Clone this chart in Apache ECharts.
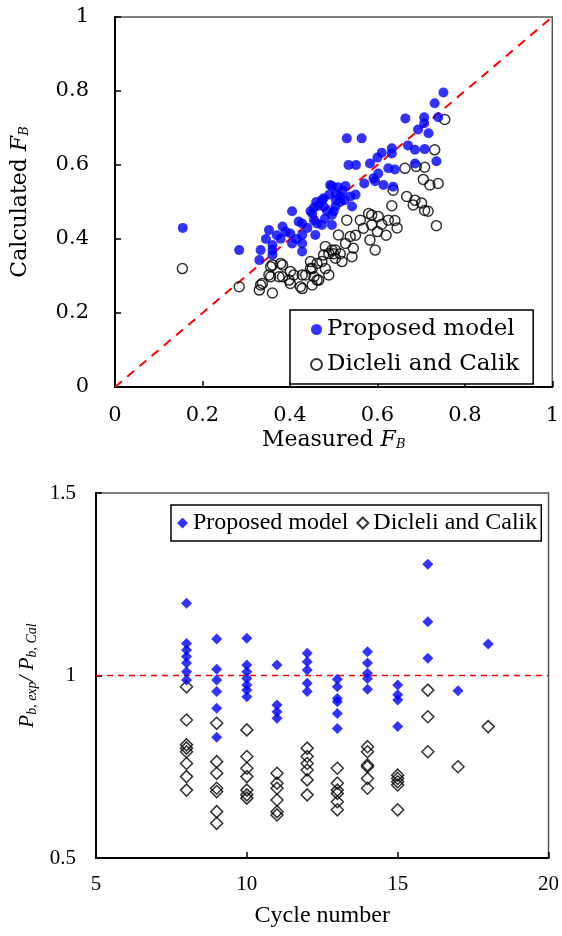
<!DOCTYPE html>
<html>
<head>
<meta charset="utf-8">
<script src="https://cdn.jsdelivr.net/npm/echarts@6/dist/echarts.min.js"></script>
<style>
  html, body { margin: 0; padding: 0; background: #fff; }
  #chart { width: 562px; height: 936px; }
</style>
</head>
<body>
<div id="chart"></div>
<script>
// top panel: measured vs calculated F_B
const proposedFB = [
  [0.155,0.43],[0.284,0.37],[0.33,0.343],[0.333,0.37],[0.352,0.424],[0.36,0.384],[0.36,0.37],[0.36,0.357],
  [0.379,0.401],[0.383,0.434],[0.401,0.415],[0.405,0.475],[0.405,0.388],[0.42,0.447],[0.428,0.411],[0.428,0.388],
  [0.428,0.366],[0.428,0.442],[0.447,0.475],[0.451,0.469],[0.455,0.451],[0.458,0.411],[0.462,0.442],[0.473,0.505],
  [0.473,0.438],[0.477,0.51],[0.477,0.488],[0.485,0.475],[0.492,0.546],[0.496,0.543],[0.496,0.465],[0.496,0.438],
  [0.504,0.523],[0.504,0.488],[0.5,0.475],[0.515,0.515],[0.515,0.5],[0.527,0.543],[0.53,0.672],[0.534,0.6],
  [0.538,0.515],[0.542,0.488],[0.551,0.6],[0.564,0.672],[0.583,0.604],[0.591,0.564],[0.595,0.556],[0.602,0.577],
  [0.61,0.633],[0.614,0.546],[0.625,0.591],[0.633,0.645],[0.633,0.631],[0.636,0.541],[0.64,0.588],[0.664,0.726],
  [0.67,0.653],[0.686,0.641],[0.686,0.604],[0.693,0.696],[0.707,0.729],[0.707,0.713],[0.708,0.643],[0.717,0.686],
  [0.731,0.767],[0.735,0.61],[0.739,0.729],[0.751,0.796],[0.37,0.41],[0.39,0.42],[0.44,0.43],[0.465,0.49],
  [0.52,0.53],[0.55,0.52],[0.6,0.62],[0.345,0.4],[0.415,0.4],[0.48,0.455],[0.51,0.54],[0.57,0.55],
  [0.46,0.5],[0.49,0.52],[0.525,0.505],[0.455,0.485],[0.505,0.505]
];
const dicleliFB = [
  [0.154,0.32],[0.284,0.271],[0.33,0.262],[0.333,0.276],[0.337,0.28],[0.352,0.303],[0.356,0.325],[0.356,0.298],
  [0.36,0.33],[0.36,0.254],[0.375,0.298],[0.379,0.334],[0.383,0.298],[0.383,0.33],[0.398,0.289],[0.401,0.28],
  [0.401,0.312],[0.409,0.303],[0.424,0.271],[0.428,0.266],[0.428,0.303],[0.436,0.303],[0.447,0.339],[0.447,0.32],
  [0.451,0.32],[0.451,0.276],[0.455,0.298],[0.462,0.289],[0.462,0.334],[0.466,0.289],[0.473,0.339],[0.477,0.357],
  [0.481,0.38],[0.481,0.32],[0.489,0.361],[0.489,0.303],[0.496,0.37],[0.504,0.37],[0.504,0.348],[0.511,0.411],
  [0.519,0.339],[0.527,0.388],[0.53,0.451],[0.538,0.407],[0.542,0.352],[0.545,0.375],[0.561,0.451],[0.568,0.429],
  [0.58,0.469],[0.583,0.397],[0.587,0.465],[0.587,0.438],[0.595,0.37],[0.602,0.461],[0.61,0.44],[0.625,0.451],
  [0.633,0.49],[0.636,0.532],[0.64,0.45],[0.645,0.43],[0.663,0.591],[0.667,0.515],[0.682,0.492],[0.686,0.505],
  [0.689,0.596],[0.701,0.497],[0.705,0.561],[0.708,0.594],[0.708,0.477],[0.716,0.475],[0.72,0.546],[0.731,0.641],
  [0.735,0.436],[0.739,0.55],[0.754,0.723],[0.5,0.36],[0.515,0.36],[0.55,0.41],[0.6,0.42],[0.62,0.41]
];
const diagLine = [[0, 0], [1, 1]];

// bottom panel: ratio vs cycle number
const proposedRatio = [
  [8,1.198],[8,1.088],[8,1.07],[8,1.052],[8,1.034],[8,1.01],[8,0.988],
  [9,1.1],[9,1.017],[9,0.988],[9,0.956],[9,0.91],[9,0.831],
  [10,1.102],[10,1.029],[10,1.01],[10,0.992],[10,0.974],[10,0.96],[10,0.942],
  [11,1.029],[11,0.919],[11,0.901],[11,0.883],
  [12,1.061],[12,1.038],[12,1.015],[12,0.979],[12,0.956],
  [13,0.99],[13,0.969],[13,0.937],[13,0.928],[13,0.896],[13,0.855],
  [14,1.065],[14,1.034],[14,1.006],[14,0.992],[14,0.962],
  [15,0.974],[15,0.947],[15,0.933],[15,0.86],
  [16,1.305],[16,1.147],[16,1.047],
  [17,0.958],[18,1.086]
];
const dicleliRatio = [
  [8,0.969],[8,0.878],[8,0.81],[8,0.801],[8,0.791],[8,0.759],[8,0.723],[8,0.686],
  [9,0.869],[9,0.764],[9,0.732],[9,0.691],[9,0.682],[9,0.627],[9,0.595],
  [10,0.851],[10,0.778],[10,0.746],[10,0.723],[10,0.686],[10,0.673],[10,0.664],
  [11,0.732],[11,0.705],[11,0.691],[11,0.659],[11,0.627],[11,0.618],
  [12,0.801],[12,0.778],[12,0.759],[12,0.741],[12,0.714],[12,0.673],
  [13,0.746],[13,0.705],[13,0.686],[13,0.677],[13,0.654],[13,0.632],
  [14,0.805],[14,0.791],[14,0.755],[14,0.75],[14,0.718],[14,0.691],
  [15,0.727],[15,0.718],[15,0.709],[15,0.7],[15,0.632],
  [16,0.96],[16,0.887],[16,0.791],
  [17,0.75],[18,0.86]
];
const unityLine = [[5, 1], [20, 1]];

const topFont = 'DejaVu Serif';
const botFont = 'Liberation Serif';

function axisBase(font, size, margin) {
  return {
    type: 'value',
    splitLine: { show: false },
    axisLine: { show: true, onZero: false, lineStyle: { color: '#000', width: 2 } },
    axisTick: { show: true, inside: true, length: 6, lineStyle: { color: '#000', width: 1.5 } },
    axisLabel: { color: '#000', fontFamily: font, fontSize: size, margin: margin },
    nameLocation: 'middle'
  };
}

const chart = echarts.init(document.getElementById('chart'), null, { renderer: 'canvas' });

const option = {
  animation: false,
  backgroundColor: '#fff',
  grid: [
    { left: 115, top: 17, width: 440, height: 370, show: true, borderColor: '#555', borderWidth: 1.5 },
    { left: 96, top: 493, width: 455, height: 365, show: true, borderColor: '#555', borderWidth: 1.5 }
  ],
  xAxis: [
    Object.assign(axisBase(topFont, 21, 18), {
      gridIndex: 0, min: 0, max: 1, interval: 0.2,
      name: 'Measured {i|F}{s|B}', nameGap: 42,
      nameTextStyle: {
        color: '#000', fontFamily: topFont, fontSize: 22,
        rich: {
          i: { fontFamily: topFont, fontStyle: 'italic', fontSize: 22, color: '#000' },
          s: { fontFamily: topFont, fontStyle: 'italic', fontSize: 13, color: '#000', verticalAlign: 'bottom', padding: [8, 0, 0, 0] }
        }
      }
    }),
    Object.assign(axisBase(botFont, 21, 16), {
      gridIndex: 1, min: 5, max: 20, interval: 5,
      name: 'Cycle number', nameGap: 46,
      nameTextStyle: { color: '#000', fontFamily: botFont, fontSize: 24 }
    })
  ],
  yAxis: [
    Object.assign(axisBase(topFont, 21, 26), {
      gridIndex: 0, min: 0, max: 1, interval: 0.2,
      name: 'Calculated {i|F}{s|B}', nameGap: 84,
      nameTextStyle: {
        color: '#000', fontFamily: topFont, fontSize: 22,
        rich: {
          i: { fontFamily: topFont, fontStyle: 'italic', fontSize: 22, color: '#000' },
          s: { fontFamily: topFont, fontStyle: 'italic', fontSize: 13, color: '#000', verticalAlign: 'bottom', padding: [8, 0, 0, 0] }
        }
      }
    }),
    Object.assign(axisBase(botFont, 21, 20), {
      gridIndex: 1, min: 0.5, max: 1.5, interval: 0.5,
      name: '{i|P}{s|b, exp}{n|/ }{i|P}{s|b, Cal}', nameGap: 52,
      nameTextStyle: {
        color: '#000', fontFamily: botFont, fontSize: 20,
        rich: {
          i: { fontFamily: botFont, fontStyle: 'italic', fontSize: 21, color: '#000' },
          s: { fontFamily: botFont, fontStyle: 'italic', fontSize: 14, color: '#000', verticalAlign: 'bottom', padding: [8, 0, 0, 0] },
          n: { fontFamily: botFont, fontStyle: 'italic', fontSize: 21, color: '#000' }
        }
      }
    })
  ],
  legend: [
    {
      orient: 'vertical', left: 290, top: 310,
      data: [{ name: 'Proposed model', icon: 'circle' }, { name: 'Dicleli and Calik', icon: 'circle' }],
      itemWidth: 11, itemHeight: 11, itemGap: 12,
      padding: [8, 14, 8, 20],
      borderColor: '#000', borderWidth: 1.5, backgroundColor: '#fff',
      textStyle: { color: '#000', fontFamily: topFont, fontSize: 23 }
    },
    {
      orient: 'horizontal', left: 171, top: 505,
      data: [{ name: 'Proposed model', icon: 'diamond' }, { name: 'Dicleli and Calik', icon: 'diamond' }],
      itemWidth: 11, itemHeight: 11, itemGap: 8,
      padding: [6, 4, 6, 6],
      borderColor: '#000', borderWidth: 1.5, backgroundColor: '#fff',
      textStyle: { color: '#000', fontFamily: botFont, fontSize: 24 }
    }
  ],
  series: [
    {
      type: 'line', xAxisIndex: 0, yAxisIndex: 0, data: diagLine, symbol: 'none', silent: true, z: 1,
      lineStyle: { color: '#ff0000', width: 2, type: [9, 7] }
    },
    {
      name: 'Dicleli and Calik', type: 'scatter', xAxisIndex: 0, yAxisIndex: 0, data: dicleliFB,
      symbol: 'circle', symbolSize: 10, z: 3,
      itemStyle: { color: 'rgba(255,255,255,0)', borderColor: '#000', borderWidth: 1.5 }
    },
    {
      name: 'Proposed model', type: 'scatter', xAxisIndex: 0, yAxisIndex: 0, data: proposedFB,
      symbol: 'circle', symbolSize: 10, z: 4,
      itemStyle: { color: '#0000ff' }
    },
    {
      type: 'line', xAxisIndex: 1, yAxisIndex: 1, data: unityLine, symbol: 'none', silent: true, z: 1,
      lineStyle: { color: '#ff0000', width: 1.5, type: [6, 5] }
    },
    {
      name: 'Dicleli and Calik', type: 'scatter', xAxisIndex: 1, yAxisIndex: 1, data: dicleliRatio,
      symbol: 'diamond', symbolSize: 12, z: 3,
      itemStyle: { color: 'rgba(255,255,255,0)', borderColor: '#000', borderWidth: 1.5 }
    },
    {
      name: 'Proposed model', type: 'scatter', xAxisIndex: 1, yAxisIndex: 1, data: proposedRatio,
      symbol: 'diamond', symbolSize: 11, z: 4,
      itemStyle: { color: '#0000ff' }
    }
  ]
};

chart.setOption(option);
</script>
</body>
</html>
